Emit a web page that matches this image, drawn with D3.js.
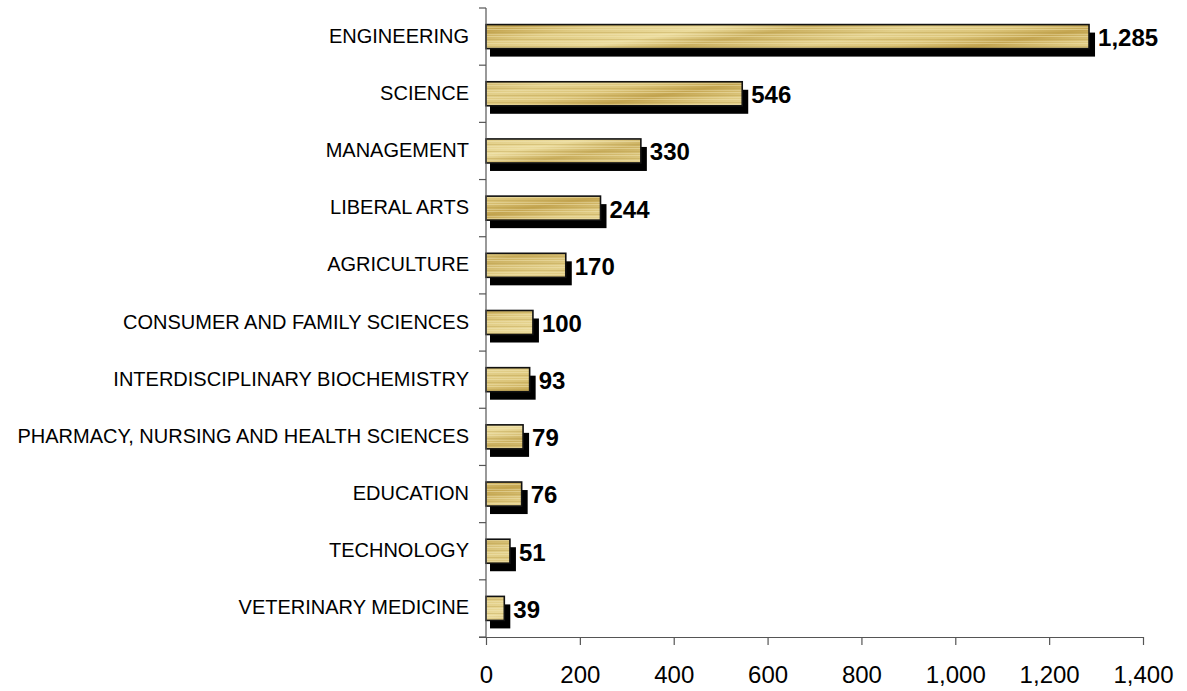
<!DOCTYPE html>
<html>
<head>
<meta charset="utf-8">
<script src="https://cdn.jsdelivr.net/npm/d3@7"></script>
<style>
  body { margin: 0; background: #fff; }
  svg text { font-family: Arial, "Liberation Sans", sans-serif; }
</style>
</head>
<body>
<div id="chart"></div>
<script>
var width = 1187, height = 691;

// data
var categories = ["ENGINEERING", "SCIENCE", "MANAGEMENT", "LIBERAL ARTS", "AGRICULTURE",
    "CONSUMER AND FAMILY SCIENCES", "INTERDISCIPLINARY BIOCHEMISTRY",
    "PHARMACY, NURSING AND HEALTH SCIENCES", "EDUCATION", "TECHNOLOGY", "VETERINARY MEDICINE"];
var values = [1285, 546, 330, 244, 170, 100, 93, 79, 76, 51, 39];
var xTicks = [0, 200, 400, 600, 800, 1000, 1200, 1400];

var rows = categories.map(function (c, i) { return {name: c, value: values[i]}; });

var svg = d3.select("#chart").append("svg")
    .attr("width", width)
    .attr("height", height);

// golden streak texture: diagonal bands + fine horizontal lines
var defs = svg.append("defs");
var grad = defs.append("linearGradient")
    .attr("id", "gold")
    .attr("gradientUnits", "userSpaceOnUse")
    .attr("x1", 0).attr("y1", 0).attr("x2", 14).attr("y2", 90)
    .attr("spreadMethod", "repeat");
[["0%", "#dcc57a"], ["15%", "#c4a550"], ["30%", "#dfca82"], ["50%", "#ebdb9c"], ["65%", "#cbb060"], ["85%", "#e2cf8a"], ["100%", "#dcc57a"]]
    .forEach(function (s) { grad.append("stop").attr("offset", s[0]).attr("stop-color", s[1]); });

var lines = defs.append("pattern")
    .attr("id", "hlines")
    .attr("patternUnits", "userSpaceOnUse")
    .attr("width", 40).attr("height", 7);
lines.append("rect").attr("y", 1).attr("width", 40).attr("height", 1).attr("fill", "#f2e6b4").attr("opacity", 0.5);
lines.append("rect").attr("y", 4).attr("width", 40).attr("height", 1).attr("fill", "#b89a44").attr("opacity", 0.35);
lines.append("rect").attr("y", 6).attr("width", 40).attr("height", 1).attr("fill", "#f6ecc4").attr("opacity", 0.35);

var x = d3.scaleLinear().domain([0, 1400]).range([486, 1143]);
var y = d3.scaleBand().domain(categories).range([8, 637]).paddingInner(0.58).paddingOuter(0.29);

// shadows
svg.append("g").selectAll("rect")
    .data(rows).enter().append("rect")
    .attr("x", x(0) + 4)
    .attr("y", function (d) { return y(d.name) + 8; })
    .attr("width", function (d) { return x(d.value) - x(0) + 2; })
    .attr("height", y.bandwidth())
    .attr("fill", "#000");

// bars
var bars = svg.append("g");
bars.selectAll("rect.fill")
    .data(rows).enter().append("rect")
    .attr("class", "fill")
    .attr("x", x(0))
    .attr("y", function (d) { return y(d.name); })
    .attr("width", function (d) { return x(d.value) - x(0); })
    .attr("height", y.bandwidth())
    .attr("fill", "url(#gold)");
bars.selectAll("rect.streak")
    .data(rows).enter().append("rect")
    .attr("class", "streak")
    .attr("x", x(0))
    .attr("y", function (d) { return y(d.name); })
    .attr("width", function (d) { return x(d.value) - x(0); })
    .attr("height", y.bandwidth())
    .attr("fill", "url(#hlines)")
    .attr("stroke", "#111")
    .attr("stroke-width", 1.6);

// value labels
svg.append("g").selectAll("text")
    .data(rows).enter().append("text")
    .attr("x", function (d) { return x(d.value) + 9; })
    .attr("y", function (d) { return y(d.name) + y.bandwidth() / 2 + 1; })
    .attr("dy", "0.35em")
    .attr("font-size", 24)
    .attr("font-weight", "bold")
    .attr("fill", "#000")
    .text(function (d) { return d3.format(",")(d.value); });

// y axis: line, ticks at band boundaries, labels
var yAxis = svg.append("g");
yAxis.append("line")
    .attr("x1", 486).attr("x2", 486).attr("y1", 8).attr("y2", 637)
    .attr("stroke", "#555").attr("stroke-width", 1.2);
var step = y.step();
d3.range(categories.length + 1).forEach(function (i) {
    var yy = 8 + i * step;
    yAxis.append("line")
        .attr("x1", 479).attr("x2", 486).attr("y1", yy).attr("y2", yy)
        .attr("stroke", "#555").attr("stroke-width", 1.2);
});
yAxis.selectAll("text")
    .data(categories).enter().append("text")
    .attr("x", 469)
    .attr("y", function (d) { return y(d) + y.bandwidth() / 2 - 1; })
    .attr("dy", "0.35em")
    .attr("text-anchor", "end")
    .attr("font-size", 20)
    .attr("fill", "#000")
    .text(function (d) { return d; });

// x axis
var xAxis = svg.append("g")
    .attr("transform", "translate(0,637)")
    .call(d3.axisBottom(x).tickValues(xTicks).tickFormat(d3.format(",")).tickSizeOuter(0).tickSize(8).tickPadding(21));
xAxis.select(".domain").attr("stroke", "#555").attr("stroke-width", 1.2)
    .attr("d", "M479,0.5H1143");
xAxis.selectAll(".tick line").attr("stroke", "#555").attr("stroke-width", 1.2);
xAxis.selectAll(".tick text")
    .attr("font-size", 24)
    .attr("font-family", "Arial, 'Liberation Sans', sans-serif")
    .attr("fill", "#000");
</script>
</body>
</html>
